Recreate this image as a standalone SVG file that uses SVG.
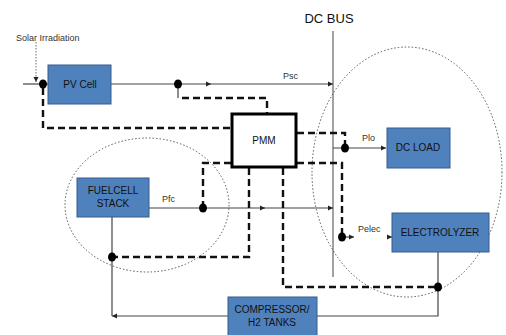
<svg xmlns="http://www.w3.org/2000/svg" width="506" height="335" viewBox="0 0 506 335">
<defs>
<style>
.box{fill:#4F81BD;stroke:#385D8A;stroke-width:1}
.bt{font-family:"Liberation Sans",Arial,sans-serif;font-size:10px;fill:#111;text-anchor:middle}
.lb{font-family:"Liberation Sans",Arial,sans-serif;font-size:9px;fill:#333}
.ln{stroke:#444;stroke-width:1.2;fill:none}
.dl{stroke:#111;stroke-width:2.4;fill:none;stroke-dasharray:7,4}
.el{stroke:#555;stroke-width:1;fill:none;stroke-dasharray:1.5,2}
.dot{fill:#000}
</style>
<marker id="ah" markerWidth="6" markerHeight="6" refX="5" refY="3" orient="auto" markerUnits="userSpaceOnUse">
<path d="M0,0.5 L5,3 L0,5.5 z" fill="#222"/>
</marker>
</defs>
<rect width="506" height="335" fill="#fff"/>

<g id="ellipses">
<ellipse class="el" cx="147" cy="205" rx="82" ry="67"/>
<ellipse class="el" cx="407" cy="172" rx="95" ry="125"/>
</g>

<g id="connectors">
<line x1="36" y1="42" x2="36" y2="82" stroke="#444" stroke-width="0.8" stroke-dasharray="1.5,1.5" marker-end="url(#ah)"/>
<line class="ln" x1="23" y1="84" x2="48" y2="84"/>
<line class="ln" x1="111" y1="84" x2="211" y2="84" marker-end="url(#ah)"/>
<line class="ln" x1="209" y1="84" x2="333" y2="84" marker-end="url(#ah)"/>
<line class="ln" x1="178" y1="88" x2="178" y2="98"/>
<line x1="333" y1="31" x2="333" y2="277" stroke="#444" stroke-width="1"/>
<line class="ln" x1="149" y1="208" x2="265" y2="208" marker-end="url(#ah)"/>
<line class="ln" x1="263" y1="208" x2="333" y2="208" marker-end="url(#ah)"/>
<line class="ln" x1="333" y1="148" x2="386" y2="148" marker-end="url(#ah)"/>
<line class="ln" x1="345" y1="237" x2="354" y2="237" marker-end="url(#ah)"/>
<line class="ln" x1="387" y1="237" x2="392" y2="237" marker-end="url(#ah)"/>
<polyline class="ln" points="438,252 438,316 317,316"/>
<line class="ln" x1="228" y1="316" x2="112" y2="316" marker-end="url(#ah)"/>
<line class="ln" x1="112" y1="316" x2="112" y2="217"/>
<polyline class="dl" points="43,88 43,128 231,128"/>
<polyline class="dl" points="182,98 267,98 267,113"/>
<polyline class="dl" points="203,208 203,163 231,163"/>
<polyline class="dl" points="297,133 345,133 345,148"/>
<polyline class="dl" points="297,163 342,163 342,237"/>
<polyline class="dl" points="249,168 249,257 112,257"/>
<polyline class="dl" points="283,168 283,287 438,287"/>
<ellipse class="dot" cx="43" cy="84" rx="4" ry="4.5"/>
<ellipse class="dot" cx="178" cy="84" rx="4" ry="4.5"/>
<ellipse class="dot" cx="203" cy="208" rx="4" ry="4.5"/>
<ellipse class="dot" cx="345" cy="148" rx="4" ry="4.5"/>
<ellipse class="dot" cx="342" cy="237" rx="4" ry="4.5"/>
<ellipse class="dot" cx="112" cy="257" rx="4" ry="4.5"/>
<ellipse class="dot" cx="438" cy="287" rx="4" ry="4.5"/>
</g>

<g id="labels">
<text class="lb" x="16" y="41" font-size="7">Solar Irradiation</text>
<text x="329" y="23" font-family="'Liberation Sans',Arial,sans-serif" font-size="13" fill="#111" text-anchor="middle">DC BUS</text>
<text class="lb" x="283" y="79">Psc</text>
<text class="lb" x="162" y="202">Pfc</text>
<text class="lb" x="362" y="141">Plo</text>
<text class="lb" x="358" y="232">Pelec</text>
</g>

<g id="pv">
<rect class="box" x="48" y="65" width="63" height="39"/>
<text class="bt" x="80" y="88">PV Cell</text>
</g>
<g id="pmm">
<rect x="232" y="114" width="64" height="53" fill="#fff" stroke="#000" stroke-width="3"/>
<text class="bt" x="264" y="144" font-size="8.5">PMM</text>
</g>
<g id="fuelcell">
<rect class="box" x="77" y="178" width="72" height="39"/>
<text class="bt" x="113" y="194">FUELCELL</text>
<text class="bt" x="113" y="207">STACK</text>
</g>
<g id="dcload">
<rect class="box" x="387" y="128" width="63" height="40"/>
<text class="bt" x="418" y="151">DC LOAD</text>
</g>
<g id="electrolyzer">
<rect class="box" x="392" y="213" width="97" height="39"/>
<text class="bt" x="440" y="236">ELECTROLYZER</text>
</g>
<g id="compressor">
<rect class="box" x="228" y="297" width="89" height="40"/>
<text class="bt" x="272" y="313">COMPRESSOR/</text>
<text class="bt" x="272" y="326">H2 TANKS</text>
</g>
</svg>
